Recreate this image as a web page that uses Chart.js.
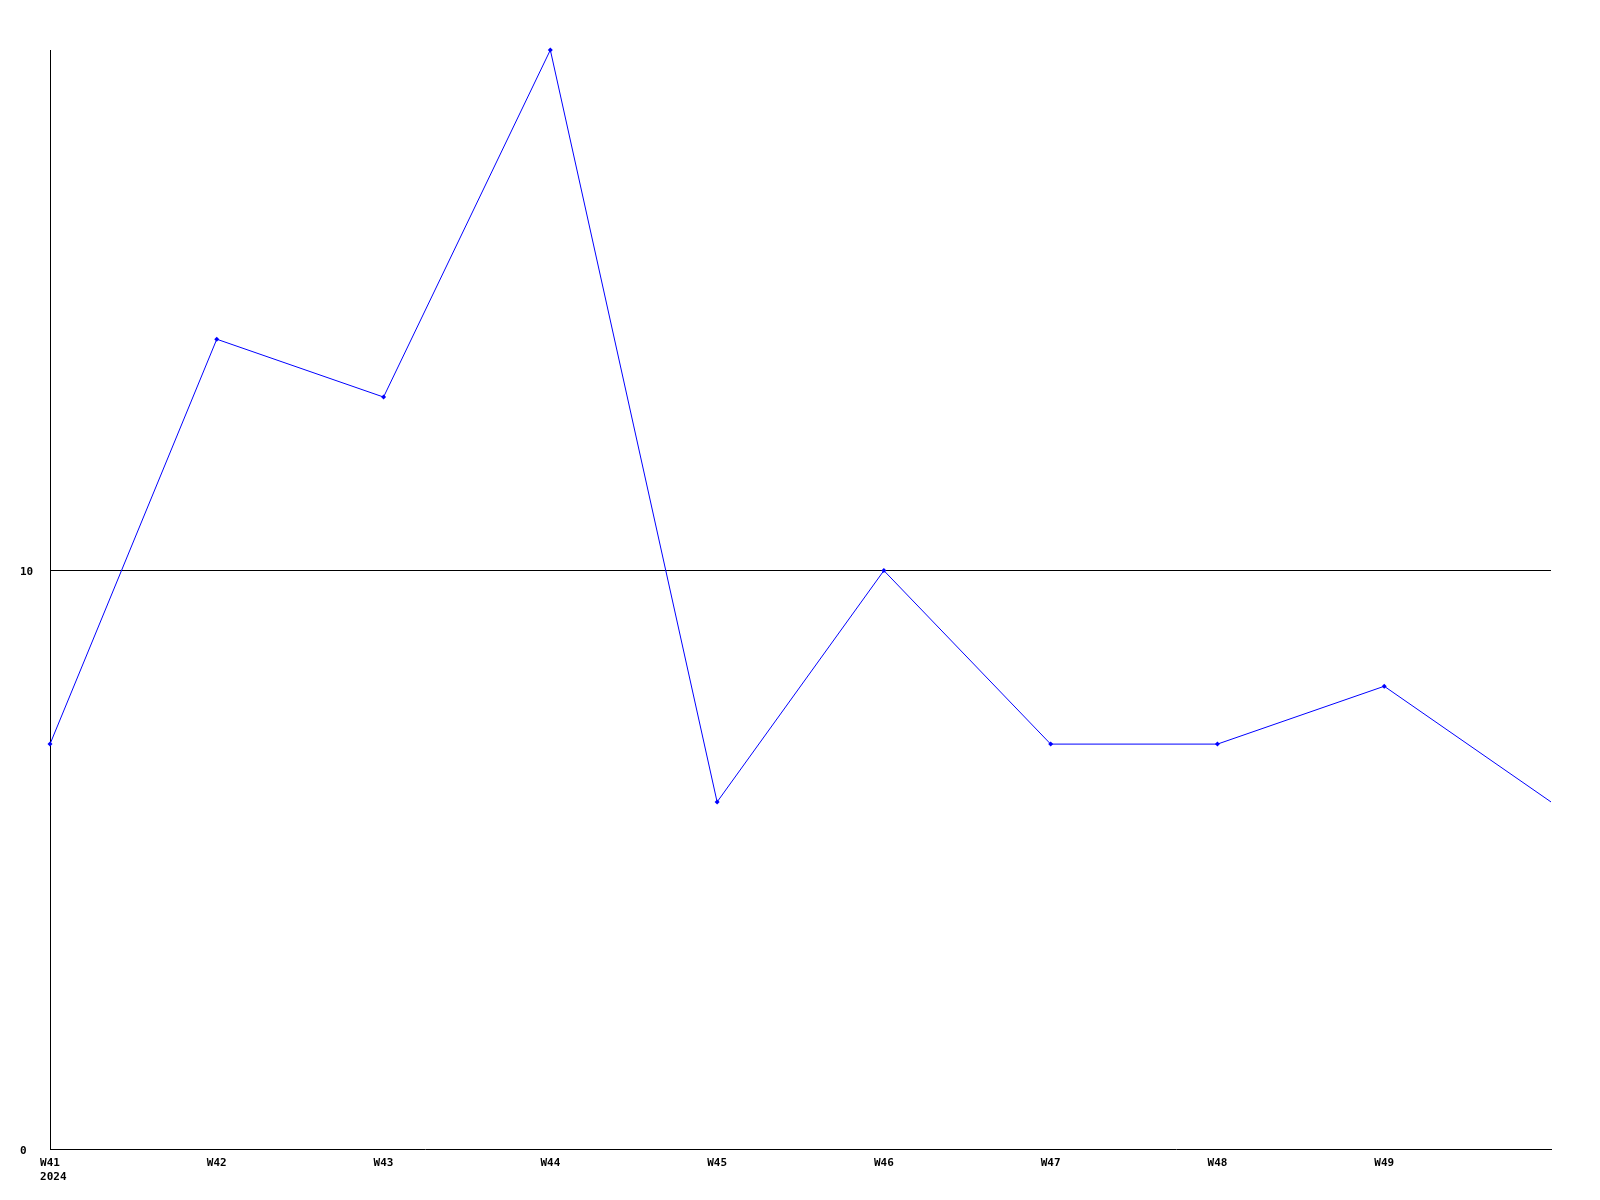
<!DOCTYPE html>
<html lang="en">
<head>
    <meta charset="UTF-8">
    <title>Weekly Line Chart</title>
    <script src="https://cdn.jsdelivr.net/npm/chart.js"></script>
    <style>
        body { margin: 0; background: #fff; }
    </style>
</head>
<body>
    <canvas id="weekChart" width="1600" height="1200"></canvas>

    <script>
        // data
        const weeks = ['W41', 'W42', 'W43', 'W44', 'W45', 'W46', 'W47', 'W48', 'W49', 'W50'];
        const counts = [7, 14, 13, 19, 6, 10, 7, 7, 8, 6];
        const yearLabel = '2024';
        const yTicks = [0, 10];
        const yMax = 19;

        const xFont = { family: 'DejaVu Sans Mono', size: 11, weight: 'bold', lineHeight: 14 / 11 };
        // tiny line height so the blank first line nudges the y labels down a couple of px
        const yFont = { family: 'DejaVu Sans Mono', size: 11, weight: 'bold', lineHeight: 4 / 11 };

        const ctx = document.getElementById('weekChart').getContext('2d');
        new Chart(ctx, {
            type: 'line',
            data: {
                // year sits under the first week, starting a bit to the right
                labels: weeks.map((w, i) => i === 0 ? [w, ' ' + yearLabel] : w),
                datasets: [{
                    data: counts,
                    borderColor: '#0000ff',
                    backgroundColor: '#0000ff',
                    borderWidth: 1,
                    tension: 0,
                    pointStyle: 'rectRot',
                    pointRadius: c => c.dataIndex === counts.length - 1 ? 0 : 2.5,
                    pointBorderWidth: 0,
                    clip: false
                }]
            },
            options: {
                responsive: false,
                animation: false,
                layout: { padding: { top: 50, right: 49, left: 20, bottom: 0 } },
                plugins: {
                    legend: { display: false },
                    tooltip: { enabled: false }
                },
                scales: {
                    x: {
                        offset: false,
                        grid: { display: false, drawTicks: false },
                        border: { display: true, color: '#000', width: 1 },
                        ticks: {
                            autoSkip: false,
                            maxRotation: 0,
                            padding: 7,
                            color: '#000',
                            font: xFont,
                            // last week sits on the right edge without a label
                            callback: function(value, index) {
                                return index === weeks.length - 1 ? '' : this.getLabelForValue(value);
                            }
                        },
                        afterFit: scale => { scale.height = 51; }
                    },
                    y: {
                        min: 0,
                        max: yMax,
                        grid: {
                            drawTicks: false,
                            color: c => c.tick && c.tick.value === 10 ? '#000' : 'rgba(0,0,0,0)'
                        },
                        border: { display: true, color: '#000', width: 1 },
                        ticks: {
                            stepSize: 10,
                            crossAlign: 'far',
                            color: '#000',
                            font: yFont,
                            callback: v => yTicks.includes(v) ? ['', String(v)] : null
                        },
                        afterFit: scale => { scale.width = 30; }
                    }
                }
            }
        });
    </script>
</body>
</html>
